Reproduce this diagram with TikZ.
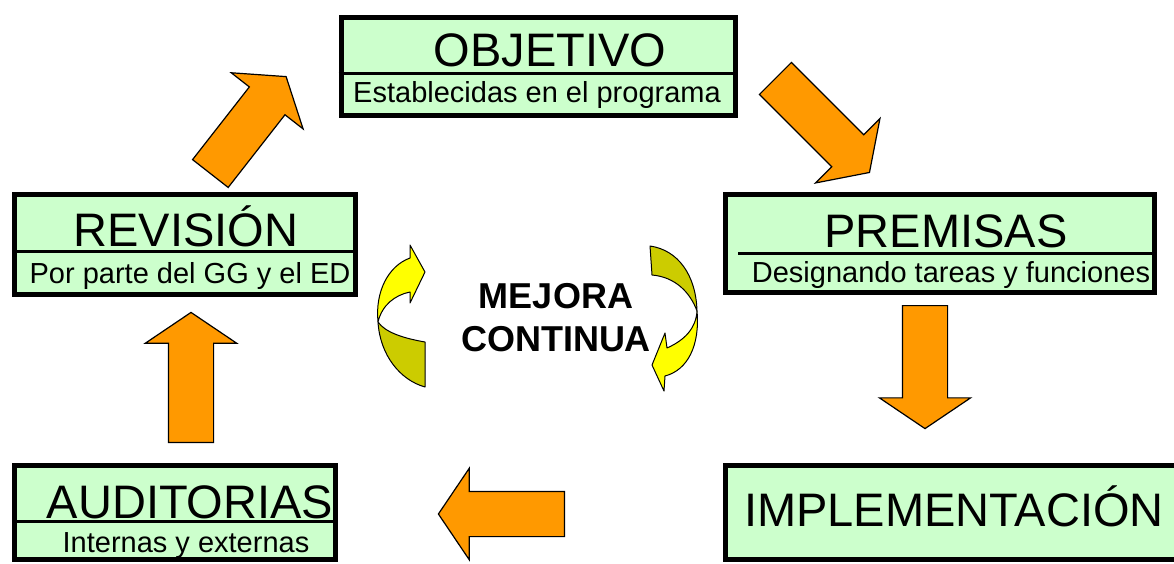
\documentclass[tikz,border=0pt]{standalone}
\usepackage{fontspec}
\setmainfont{Liberation Sans}
\usepackage{tikz}
\definecolor{PaleGreen}{HTML}{CCFFCC}
\definecolor{StrongOrange}{HTML}{FF9900}
\definecolor{LightYellow}{HTML}{FFFF00}
\definecolor{DarkYellow}{HTML}{CCCC00}
\usetikzlibrary{calc,positioning,shapes,shapes.arrows}

\begin{document}
\begin{tikzpicture}[x=1pt, y=-1pt,
  box/.style={draw, line width=5pt, fill=PaleGreen, inner sep=0pt},
  divider/.style={line width=3pt},
  title/.style={anchor=base, font=\fontsize{47}{50}\selectfont},
  subtitle/.style={anchor=base, font=\fontsize{29}{32}\selectfont},
  bigarrow/.style={single arrow, draw, line width=1.2pt, fill=StrongOrange, anchor=tail,
    minimum height=#1, inner xsep=0pt, inner ysep=22pt, single arrow head extend=23pt,
    single arrow tip angle=112},
  curl/.style={draw, line width=1pt, line join=round}]

 \useasboundingbox (0,0) rectangle (1174,563);

 % boxes
 \node[box, minimum width=394pt, minimum height=98pt] (objetivo) at (538,66) {};
 \node[box, minimum width=341pt, minimum height=100pt] (revision) at (185,244.5) {};
 \node[box, minimum width=429pt, minimum height=98pt] (premisas) at (940,243.5) {};
 \node[box, minimum width=321pt, minimum height=94pt] (auditorias) at (175,512.5) {};
 \node[box, minimum width=465pt, minimum height=94pt] (implementacion) at (958,512.5) {};

 \draw[divider] (objetivo.west |- 0,73) -- (objetivo.east |- 0,73);
 \draw[divider] (revision.west |- 0,251) -- (revision.east |- 0,251);
 \draw[divider] (738,253) -- (premisas.east |- 0,253);
 \draw[divider] (auditorias.west |- 0,521) -- (auditorias.east |- 0,521);

 \node[title] (objt) at (550,66) {OBJETIVO};
 \node[subtitle] (objs) at (537,102) {Establecidas en el programa};
 \node[title] (revt) at (186,246) {REVISIÓN};
 \node[subtitle] (revs) at (190,283) {Por parte del GG y el ED};
 \node[title] (premt) at (946,247) {PREMISAS};
 \node[subtitle] (prems) at (951,282) {Designando tareas y funciones};
 \node[title] (audt) at (190,518) {AUDITORIAS};
 \node[subtitle] (auds) at (186,552) {Internas y externas};
 \node[title] (implt) at (954,526) {IMPLEMENTACIÓN};

 % block arrows round the cycle
 \node[bigarrow=123, rotate=52] (revobj) at (210,174) {};
 \node[bigarrow=133, rotate=-45] (objprem) at (775,78) {};
 \node[bigarrow=123, rotate=-90] (premimpl) at (925,305) {};
 \node[bigarrow=126, rotate=180] (implaud) at (565,514) {};
 \node[bigarrow=130, rotate=90] (audrev) at (191,443) {};

 % centre
 \node[align=center, font=\bfseries\fontsize{36}{43}\selectfont] (mejora) at (556,318) {MEJORA\\CONTINUA};

 \filldraw[curl, fill=DarkYellow] (378,322) .. controls (380,355) and (400,380) .. (425,387)
   -- (425,342) .. controls (402,338) and (385,332) .. (378,322) -- cycle;
 \filldraw[curl, fill=LightYellow] (378,322) .. controls (375,292) and (388,266) .. (410,258)
   -- (410,245) -- (425,272) -- (410,303) -- (410,292) .. controls (395,295) and (382,305) .. (378,322) -- cycle;

 \filldraw[curl, fill=DarkYellow] (650,246) .. controls (678,250) and (696,275) .. (697,311)
   .. controls (690,292) and (675,277) .. (652,275) -- cycle;
 \filldraw[curl, fill=LightYellow] (697,311) .. controls (700,345) and (688,370) .. (665,376)
   -- (664,391) -- (652,365) -- (665,333) -- (667,348) .. controls (685,340) and (696,328) .. (697,311) -- cycle;

\end{tikzpicture}
\end{document}
